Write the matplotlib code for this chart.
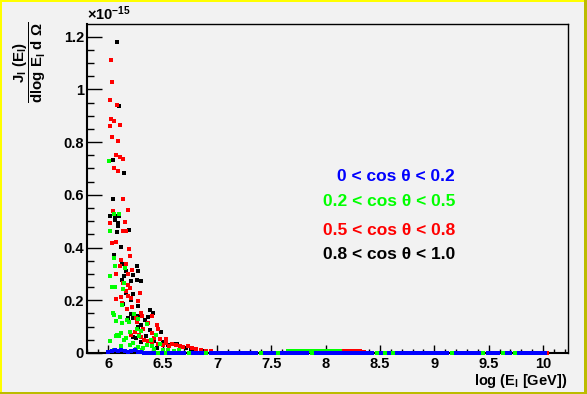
import matplotlib
matplotlib.use('Agg')
import numpy as np
import matplotlib.pyplot as plt
from matplotlib.ticker import MultipleLocator, FuncFormatter
from matplotlib.patches import Rectangle

plt.rcParams['font.family'] = ['Liberation Sans', 'DejaVu Sans']
plt.rcParams['font.weight'] = 'bold'
plt.rcParams['mathtext.fontset'] = 'custom'
plt.rcParams['mathtext.rm'] = 'Liberation Sans:bold'
plt.rcParams['mathtext.it'] = 'Liberation Sans:bold'
plt.rcParams['mathtext.bf'] = 'Liberation Sans:bold'

# values in units of 1e-15
black_x = [6.076, 6.095, 6.040, 6.141, 6.040, 6.012, 6.058, 6.095, 6.058, 6.086,
           6.086, 6.187, 6.076, 6.113, 6.049, 6.122, 6.260, 6.159, 6.269, 6.223,
           6.141, 6.122, 6.205, 6.297, 6.260, 6.159, 6.223, 6.205, 6.131, 6.270,
           6.380, 6.407, 6.205, 6.270, 6.361, 6.177, 6.223, 6.334, 6.297, 6.270,
           6.380, 6.481, 6.343, 6.250, 6.230, 6.634, 6.600, 6.710, 6.760, 6.800,
           6.860, 6.420, 6.500, 6.550, 6.450, 6.300, 6.200]
black_y = [1.179, 0.936, 0.732, 0.682, 0.583, 0.519, 0.519, 0.519, 0.503, 0.492,
           0.481, 0.465, 0.458, 0.401, 0.371, 0.336, 0.329, 0.310, 0.310, 0.295,
           0.291, 0.276, 0.272, 0.272, 0.276, 0.226, 0.223, 0.200, 0.185, 0.177,
           0.162, 0.151, 0.147, 0.139, 0.135, 0.132, 0.132, 0.124, 0.105, 0.097,
           0.086, 0.079, 0.063, 0.056, 0.060, 0.033, 0.035, 0.019, 0.014, 0.011,
           0.009, 0.045, 0.040, 0.030, 0.020, 0.040, 0.030]

red_x = [6.021, 6.030, 6.012, 6.076, 6.021, 6.049, 6.012, 6.104, 6.030, 6.087,
         6.067, 6.104, 6.131, 6.049, 6.086, 6.131, 6.040, 6.178, 6.012, 6.150,
         6.131, 6.159, 6.067, 6.030, 6.187, 6.196, 6.113, 6.164, 6.104, 6.214,
         6.067, 6.178, 6.131, 6.178, 6.202, 6.159, 6.180, 6.288, 6.113, 6.210,
         6.067, 6.269, 6.122, 6.214, 6.168, 6.297, 6.250, 6.310, 6.398, 6.265,
         6.361, 6.444, 6.320, 6.453, 6.398, 6.205, 6.527, 6.472, 6.589, 6.736,
         6.770, 6.810, 6.850, 6.900, 6.940, 6.330, 6.360, 6.400, 6.420, 6.460,
         6.500, 6.530, 6.560, 6.620, 6.660, 6.690, 6.300, 6.240, 6.280,
         8.170, 8.200, 8.230, 8.260, 8.290, 8.320, 8.350, 10.040]
red_y = [1.110, 1.027, 0.959, 0.940, 0.887, 0.879, 0.860, 0.864, 0.818, 0.803,
         0.750, 0.742, 0.735, 0.702, 0.689, 0.583, 0.538, 0.541, 0.492, 0.496,
         0.462, 0.462, 0.420, 0.416, 0.393, 0.367, 0.352, 0.336, 0.329, 0.315,
         0.298, 0.298, 0.264, 0.257, 0.245, 0.234, 0.216, 0.226, 0.211, 0.207,
         0.204, 0.196, 0.189, 0.173, 0.166, 0.151, 0.133, 0.141, 0.139, 0.116,
         0.113, 0.105, 0.091, 0.090, 0.074, 0.067, 0.052, 0.054, 0.034, 0.027,
         0.019, 0.015, 0.012, 0.009, 0.007, 0.050, 0.045, 0.040, 0.055, 0.035,
         0.030, 0.038, 0.028, 0.030, 0.025, 0.022, 0.060, 0.080, 0.070,
         0.006, 0.006, 0.006, 0.006, 0.006, 0.006, 0.005, 0.001]

green_x = [6.003, 6.050, 6.095, 6.012, 6.049, 6.058, 6.150, 6.012, 6.141, 6.030,
           6.058, 6.131, 6.122, 6.040, 6.050, 6.233, 6.104, 6.067, 6.270, 6.190,
           6.122, 6.352, 6.260, 6.297, 6.196, 6.120, 6.067, 6.285, 6.435, 6.390,
           6.012, 6.147, 6.230, 6.113, 6.354, 6.478, 6.273, 6.080, 6.100, 6.160,
           6.200, 6.250, 6.310, 6.420, 6.500, 6.550, 6.600, 6.650, 6.050, 6.150,
           6.175, 6.320, 6.400,
           7.65, 7.68, 7.71, 7.74, 7.77, 7.80, 7.83, 7.86, 7.89, 7.92, 7.95,
           7.98, 8.01, 8.04, 8.07, 8.10, 8.13]
green_y = [0.727, 0.527, 0.527, 0.462, 0.359, 0.329, 0.321, 0.291, 0.264, 0.250,
           0.250, 0.242, 0.181, 0.150, 0.145, 0.147, 0.135, 0.120, 0.128, 0.118,
           0.113, 0.109, 0.090, 0.082, 0.079, 0.074, 0.064, 0.063, 0.068, 0.049,
           0.044, 0.049, 0.039, 0.025, 0.029, 0.033, 0.022, 0.070, 0.065, 0.055,
           0.030, 0.015, 0.012, 0.015, 0.012, 0.010, 0.008, 0.010, 0.012, 0.008,
           0.125, 0.020, 0.025,
           0.006, 0.006, 0.006, 0.006, 0.006, 0.006, 0.006, 0.006, 0.006, 0.006,
           0.006, 0.006, 0.006, 0.006, 0.006, 0.006, 0.006]
# green points sitting on the zero line
green_zero_x = [6.46, 6.52, 6.74, 6.90, 7.40, 7.56, 7.87, 8.47, 8.55, 8.62,
                9.16, 9.45, 9.63, 9.74]

blue_x = [6.00, 6.03, 6.06, 6.09, 6.12, 6.15, 6.18, 6.21, 6.24, 6.27, 6.30]
blue_y = [0.003, 0.006, 0.010, 0.008, 0.011, 0.006, 0.004, 0.008, 0.011, 0.005, 0.003]
# blue points sitting on the zero line
blue_zero_x = [6.33, 6.36, 6.39, 6.42, 6.49, 6.56, 6.59, 6.62, 6.65, 6.68, 6.70,
               6.78, 6.81, 6.84, 6.86, 6.94, 6.97, 7.00, 7.03, 7.06, 7.09, 7.12,
               7.15, 7.18, 7.21, 7.24, 7.27, 7.30, 7.33, 7.36, 7.44, 7.47, 7.50,
               7.52, 7.60, 7.63, 7.66, 7.69, 7.72, 7.75, 7.78, 7.81, 7.83, 7.91,
               7.94, 7.97, 8.00, 8.03, 8.06, 8.09, 8.12, 8.15, 8.18, 8.21, 8.24,
               8.27, 8.30, 8.33, 8.36, 8.39, 8.42, 8.43, 8.51, 8.585, 8.66, 8.69,
               8.72, 8.75, 8.78, 8.81, 8.84, 8.87, 8.90, 8.93, 8.96, 8.99, 9.02,
               9.05, 9.08, 9.11, 9.12, 9.20, 9.23, 9.26, 9.29, 9.32, 9.35, 9.38,
               9.41, 9.49, 9.52, 9.55, 9.58, 9.59, 9.67, 9.70, 9.78, 9.81, 9.84,
               9.87, 9.90, 9.93, 9.96, 9.99, 10.02]

labels = ['0 < cos θ < 0.2', '0.2 < cos θ < 0.5', '0.5 < cos θ < 0.8', '0.8 < cos θ < 1.0']
label_colors = ['#0000ff', '#00ff00', '#ff0000', '#000000']

bg = '#f2f2f2'
fig = plt.figure(figsize=(5.87, 3.94), dpi=100, facecolor=bg)
ax = fig.add_axes([0.1477, 0.1041, 0.8199, 0.835])
ax.set_facecolor(bg)

ms = 2.9
kw = dict(marker='s', linestyle='none', markersize=ms, markeredgewidth=0, clip_on=False)
ax.plot(black_x, black_y, color='#000000', zorder=3, **kw)
ax.plot(red_x, red_y, color='#ff0000', zorder=4, **kw)
ax.plot(green_x, green_y, color='#00ff00', zorder=5, **kw)
ax.plot(green_zero_x, np.zeros(len(green_zero_x)), color='#00ff00', zorder=5, **kw)
ax.plot(blue_x, blue_y, color='#0000ff', zorder=6, **kw)
ax.plot(blue_zero_x, np.zeros(len(blue_zero_x)), color='#0000ff', zorder=6, **kw)

ax.set_xlim(5.8, 10.23)
ax.set_ylim(0, 1.248)

ax.xaxis.set_major_locator(MultipleLocator(0.5))
ax.xaxis.set_minor_locator(MultipleLocator(0.1))
ax.yaxis.set_major_locator(MultipleLocator(0.2))
ax.yaxis.set_minor_locator(MultipleLocator(0.05))
fmt = FuncFormatter(lambda v, p: '%g' % round(v, 3))
ax.xaxis.set_major_formatter(fmt)
ax.yaxis.set_major_formatter(fmt)

ax.tick_params(axis='y', which='major', direction='in', length=10.8, width=1,
               labelsize=10.5, pad=2, right=False)
ax.tick_params(axis='y', which='minor', direction='in', length=5, width=1, right=False)
ax.tick_params(axis='x', which='major', direction='in', length=5.8, width=1,
               labelsize=10.5, pad=3, top=False)
ax.tick_params(axis='x', which='minor', direction='in', length=2.9, width=1, top=False)

for side in ['left', 'bottom']:
    ax.spines[side].set_linewidth(1.5)
for side in ['top', 'right']:
    ax.spines[side].set_linewidth(1.0)

for i, (lab, col) in enumerate(zip(labels, label_colors)):
    yy = [0.669, 0.574, 0.463, 0.372][i]
    ax.text(9.19, yy, lab, color=col, fontsize=12.5, ha='right', va='center')

fig.text(0.148, 0.948, r'$\times10^{-15}$', fontsize=10.5, ha='left', va='baseline')
fig.text(0.966, 0.034, r'log (E$_{l}$ [GeV])', fontsize=10.5, ha='right', va='center')
fig.text(0.050, 0.843, r'$\dfrac{J_{l}\ (E_{l})}{\mathrm{dlog}\ E_{l}\ d\ \Omega}$',
         fontsize=10.8, rotation=90, ha='center', va='center')

# canvas border
fig.add_artist(Rectangle((0, 0), 2 / 587, 1, transform=fig.transFigure,
                         facecolor='#ffff00', edgecolor='none'))
fig.add_artist(Rectangle((0, 1 - 2 / 394), 1, 2 / 394, transform=fig.transFigure,
                         facecolor='#ffff00', edgecolor='none'))
fig.add_artist(Rectangle((1 - 3 / 587, 0), 3 / 587, 1, transform=fig.transFigure,
                         facecolor='#bcbc00', edgecolor='none'))
fig.add_artist(Rectangle((0, 0), 1, 2.5 / 394, transform=fig.transFigure,
                         facecolor='#bcbc00', edgecolor='none'))

fig.savefig('out.png', dpi=100, facecolor=bg)
